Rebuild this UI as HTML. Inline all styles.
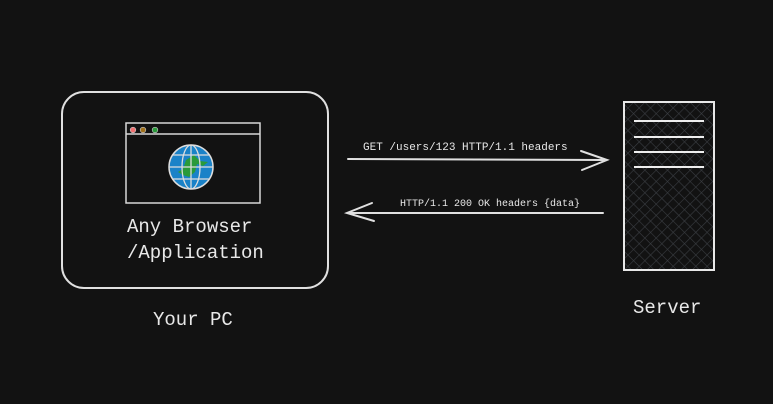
<!DOCTYPE html>
<html><head><style>
html,body{margin:0;padding:0;background:#121212;}
svg{display:block}
text{font-family:"Liberation Mono",monospace;fill:#e8e8e8}
</style></head><body>
<svg width="773" height="404" viewBox="0 0 773 404">
<defs>
<pattern id="hatch" width="8" height="8" patternUnits="userSpaceOnUse" patternTransform="rotate(45)">
<rect width="8" height="8" fill="#121212"/>
<line x1="0" y1="0" x2="0" y2="8" stroke="#3a3d42" stroke-width="1.2"/>
<line x1="0" y1="0" x2="8" y2="0" stroke="#3a3d42" stroke-width="1.2"/>
</pattern>
</defs>
<rect x="62" y="92" width="266" height="196" rx="22" fill="none" stroke="#e0e0e0" stroke-width="2"/>
<rect x="126" y="123" width="134" height="80" fill="none" stroke="#d8d8d8" stroke-width="1.5"/>
<line x1="126" y1="134" x2="260" y2="134" stroke="#d8d8d8" stroke-width="1.5"/>
<circle cx="133" cy="130" r="2.8" fill="#f07070" stroke="#ccc" stroke-width=".6"/>
<circle cx="143" cy="130" r="2.8" fill="#a0701a" stroke="#ccc" stroke-width=".6"/>
<circle cx="155" cy="130" r="2.8" fill="#2a9a3a" stroke="#ccc" stroke-width=".6"/>
<circle cx="191" cy="167" r="22" fill="#1a82c8" stroke="#ddd" stroke-width="1.5"/>
<path d="M186 160 l8 -5 l6 6 l8 1 l-5 4 l-6 -2 l-2 8 l-6 5 l-6 -2 l-5 -3 l5 -3 z" fill="#2a9a3a"/>
<ellipse cx="191" cy="167" rx="9" ry="22" fill="none" stroke="#ddd" stroke-width="1.3"/>
<line x1="191" y1="145" x2="191" y2="189" stroke="#ddd" stroke-width="1.3"/>
<line x1="169" y1="167" x2="213" y2="167" stroke="#ddd" stroke-width="1.3"/>
<line x1="173" y1="155" x2="209" y2="155" stroke="#ddd" stroke-width="1.3"/>
<line x1="173" y1="179" x2="209" y2="179" stroke="#ddd" stroke-width="1.3"/>
<text x="127" y="232" font-size="19">Any Browser</text>
<text x="127" y="258" font-size="19">/Application</text>
<text x="153" y="325" font-size="19">Your PC</text>
<rect x="624" y="102" width="90" height="168" fill="url(#hatch)" stroke="#e8e8e8" stroke-width="2"/>
<g stroke="#eee" stroke-width="2">
<line x1="634" y1="121" x2="704" y2="121"/><line x1="634" y1="137" x2="704" y2="137"/>
<line x1="634" y1="152" x2="704" y2="152"/><line x1="634" y1="167" x2="704" y2="167"/>
</g>
<text x="633" y="313" font-size="19">Server</text>
<g stroke="#e0e0e0" stroke-width="2" fill="none" stroke-linecap="round">
<line x1="348" y1="159" x2="606" y2="160"/>
<polyline points="581,151 607,160 582,170"/>
<line x1="348" y1="213" x2="603" y2="213"/>
<polyline points="372,203 347,213 374,221"/>
</g>
<text x="363" y="150" font-size="11">GET /users/123 HTTP/1.1 headers</text>
<text x="400" y="206" font-size="10">HTTP/1.1 200 OK headers {data}</text>
</svg>
</body></html>
